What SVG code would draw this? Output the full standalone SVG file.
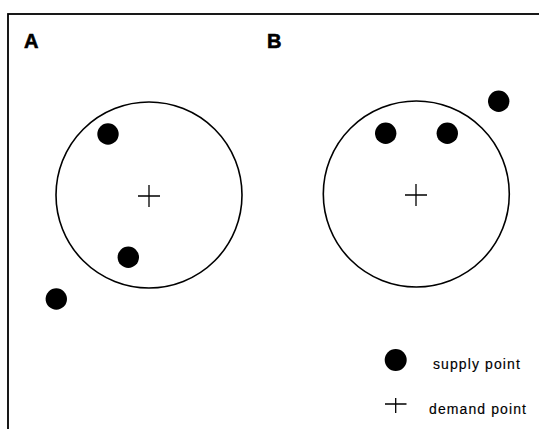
<svg xmlns="http://www.w3.org/2000/svg" width="539" height="429" viewBox="0 0 539 429">
<style>
.frame{fill:none;stroke:#000;stroke-width:1.8}
.ring{fill:none;stroke:#000;stroke-width:1.6}
.dot{fill:#000}
.plus{stroke:#000;stroke-width:1.3;fill:none}
.lab{font-family:"Liberation Sans",Arial,sans-serif;font-weight:bold;font-size:20px;fill:#000;stroke:#000;stroke-width:0.6}
.leg{font-family:"Liberation Sans",Arial,sans-serif;font-size:14px;letter-spacing:1.1px;fill:#000;stroke:#000;stroke-width:0.15}
</style>
<defs>
<path id="plusA" d="M-11 0H11M0 -11V11"/>
</defs>
<rect class="frame" x="8" y="14" width="545" height="430"/>
<text class="lab" x="24" y="48">A</text>
<text class="lab" x="267" y="48">B</text>
<g id="panelA">
<circle class="ring" cx="149" cy="195" r="93"/>
<use href="#plusA" class="plus" x="149" y="196"/>
<circle class="dot" cx="108" cy="134" r="10.7"/>
<circle class="dot" cx="128.3" cy="257.3" r="10.7"/>
<circle class="dot" cx="56.3" cy="299" r="10.7"/>
</g>
<g id="panelB">
<circle class="ring" cx="416.3" cy="194" r="93"/>
<use href="#plusA" class="plus" x="416" y="195"/>
<circle class="dot" cx="385.7" cy="133.3" r="10.7"/>
<circle class="dot" cx="447.3" cy="133.3" r="10.7"/>
<circle class="dot" cx="498.7" cy="101.3" r="10.7"/>
</g>
<g id="legend">
<circle class="dot" cx="395.7" cy="360" r="11"/>
<text class="leg" x="433" y="368.5">supply point</text>
<path class="plus" d="M385 404H406.5M395.7 398V413"/>
<text class="leg" x="429" y="413.5">demand point</text>
</g>
</svg>
